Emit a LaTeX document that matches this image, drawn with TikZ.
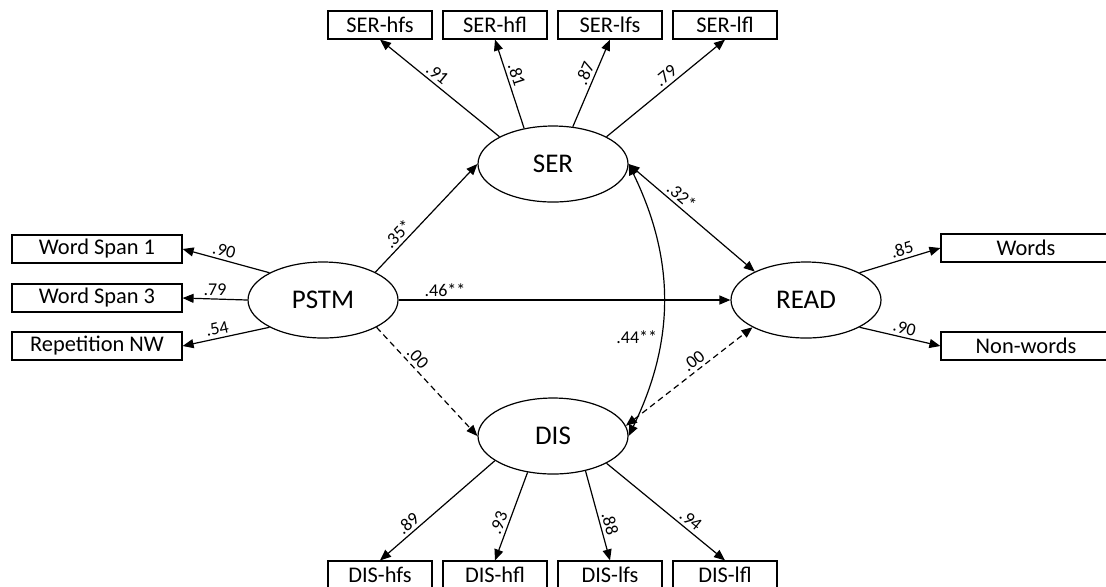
\documentclass[tikz,border=0pt]{standalone}
\usepackage{fontspec}
\setmainfont{Carlito}
\usetikzlibrary{shapes.geometric,arrows.meta}

\begin{document}
\begin{tikzpicture}[x=0.5pt,y=-0.5pt]
    \tikzstyle{latent}=[ellipse,draw,line width=0.6pt,minimum width=75pt,minimum height=38pt,inner sep=0pt,font=\fontsize{13.5}{16}\selectfont]
    \tikzstyle{obs}=[rectangle,draw,line width=0.6pt,minimum width=52pt,minimum height=14pt,inner sep=0pt,font=\fontsize{11.2}{13}\selectfont]
    \tikzstyle{wide}=[obs,minimum width=85pt]
    \tikzstyle{load}=[font=\fontsize{9}{10}\selectfont,inner sep=1.5pt]
    \tikzstyle{arr}=[-{Triangle[length=5.5pt,width=4.5pt]},line width=0.6pt]
    \tikzstyle{dbl}=[{Triangle[length=5.5pt,width=4.5pt]}-{Triangle[length=5.5pt,width=4.5pt]},line width=0.6pt]
    \tikzstyle{dsh}=[dash pattern=on 3pt off 2pt]
    \clip (0,0) rectangle (1106,586);
    % latent variables
    \node[latent] (SER) at (553,164) {SER};
    \node[latent] (DIS) at (553,436) {DIS};
    \node[latent] (PSTM) at (323,300) {PSTM};
    \node[latent] (READ) at (806,300) {READ};
    % indicators
    \node[obs] (SERhfs) at (380,25) {SER-hfs};
    \node[obs] (SERhfl) at (495,25) {SER-hfl};
    \node[obs] (SERlfs) at (610,25) {SER-lfs};
    \node[obs] (SERlfl) at (725,25) {SER-lfl};
    \node[obs] (DIShfs) at (380,575) {DIS-hfs};
    \node[obs] (DIShfl) at (495,575) {DIS-hfl};
    \node[obs] (DISlfs) at (610,575) {DIS-lfs};
    \node[obs] (DISlfl) at (725,575) {DIS-lfl};
    \node[wide] (ws1) at (97,249) {Word Span 1};
    \node[wide] (ws3) at (97,298) {Word Span 3};
    \node[wide] (rnw) at (97,346) {Repetition NW};
    \node[wide] (words) at (1026,248) {Words};
    \node[wide] (nonw) at (1026,346) {Non-words};
    % loadings
    \draw[arr] (SER.153) -- node[load,sloped,above,pos=.57] {.91} (SERhfs.south);
    \draw[arr] (SER.129) -- node[load,sloped,above,pos=.57] {.81} (SERhfl.south);
    \draw[arr] (SER.62) -- node[load,sloped,above,pos=.57] {.87} (SERlfs.south);
    \draw[arr] (SER.27) -- node[load,sloped,above,pos=.55] {.79} (SERlfl.south);
    \draw[arr] (DIS.203) -- node[load,sloped,above,pos=.7] {.89} (DIShfs.north);
    \draw[arr] (DIS.235) -- node[load,sloped,above,pos=.61] {.93} (DIShfl.north);
    \draw[arr] (DIS.313) -- node[load,sloped,above,pos=.62] {.88} (DISlfs.north);
    \draw[arr] (DIS.333) -- node[load,sloped,above,pos=.66] {.94} (DISlfl.north);
    \draw[arr] (PSTM.153) -- node[load,sloped,above,pos=.55] {.90} (ws1.east);
    \draw[arr] (PSTM.west) -- node[load,above,pos=.5] {.79} (ws3.east);
    \draw[arr] (PSTM.207) -- node[load,sloped,above,pos=.58] {.54} (rnw.east);
    \draw[arr] (READ.27) -- node[load,sloped,above,pos=.56] {.85} (words.west);
    \draw[arr] (READ.333) -- node[load,sloped,above,pos=.53] {.90} (nonw.west);
    % structural paths
    \draw[arr] (PSTM.28) -- node[load,sloped,above,pos=.29] {.35*} (SER.west);
    \draw[arr] (PSTM.east) -- node[load,above,pos=.14] {.46**} (READ.west);
    \draw[arr,dsh] (PSTM.333) -- node[load,sloped,above,pos=.34] {.00} (DIS.west);
    \draw[dbl] (SER.east) -- node[load,sloped,above,pos=.37] {.32*} (READ.151);
    \draw[dbl,dsh] (DIS.8) -- node[load,sloped,above,pos=.58] {.00} (READ.207);
    \draw[dbl] (SER.east) to[bend left=26] node[load,left,pos=.64] {.44**} (DIS.east);
\end{tikzpicture}
\end{document}
